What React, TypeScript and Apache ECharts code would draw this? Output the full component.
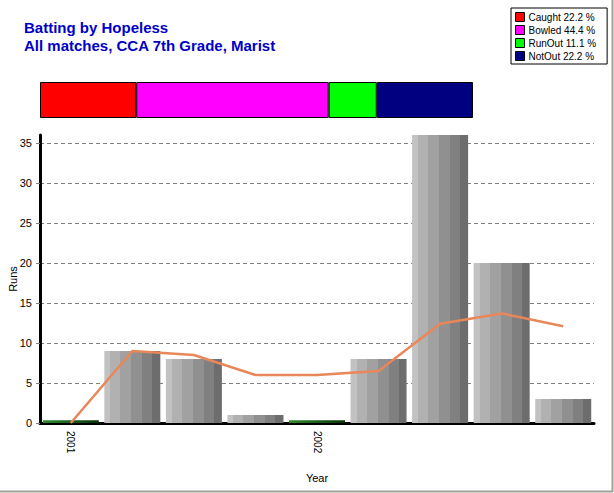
import React, { useEffect, useRef } from "react";
import * as echarts from "echarts";

const innings = ["1", "2", "3", "4", "5", "6", "7", "8", "9"];
const yearLabels = ["2001", "", "", "", "2002", "", "", "", ""];
const runs = [0, 9, 8, 1, 0, 8, 36, 20, 3];
const average = [0, 9, 8.5, 6, 6, 6.5, 12.4, 13.7, 12.1];
const dismissals = ["Caught", "Bowled", "RunOut", "NotOut"];
const dismissalCounts = [2, 4, 1, 2];
const dismissalColors = ["#ff0000", "#ff00ff", "#00ff00", "#000080"];
const yTicks = [0, 5, 10, 15, 20, 25, 30, 35];

const FONT = "'Liberation Sans', Arial, sans-serif";

export default function App() {
  const ref = useRef<HTMLDivElement>(null);
  useEffect(() => {
    if (!ref.current) return;
    const chart = echarts.init(ref.current, undefined, { renderer: "svg" });
    const total = dismissalCounts.reduce((a, b) => a + b, 0);
    const pct = dismissalCounts.map((c) => ((c / total) * 100).toFixed(1));
    const names = dismissals.map((d, i) => `${d} ${pct[i]} %`);

    const greyGrad = new echarts.graphic.LinearGradient(0, 0, 1, 0, [
      { offset: 0, color: "#c2c2c2" },
      { offset: 0.107, color: "#c2c2c2" },
      { offset: 0.107, color: "#b1b1b1" },
      { offset: 0.286, color: "#b1b1b1" },
      { offset: 0.286, color: "#a1a1a1" },
      { offset: 0.482, color: "#a1a1a1" },
      { offset: 0.482, color: "#909090" },
      { offset: 0.679, color: "#909090" },
      { offset: 0.679, color: "#808080" },
      { offset: 0.857, color: "#808080" },
      { offset: 0.857, color: "#6d6d6d" },
      { offset: 1, color: "#6d6d6d" },
    ]);
    const greenGrad = new echarts.graphic.LinearGradient(0, 0, 1, 0, [
      { offset: 0, color: "#2f8a2f" },
      { offset: 1, color: "#0a300a" },
    ]);

    const dismissalSeries = dismissals.map((d, i) => ({
      name: names[i],
      type: "bar",
      stack: "dis",
      xAxisIndex: 1,
      yAxisIndex: 1,
      barCategoryGap: 0,
      data: [dismissalCounts[i]],
      itemStyle: { color: dismissalColors[i], borderColor: "#000", borderWidth: 1 },
      silent: true,
    }));

    chart.setOption({
      animation: false,
      backgroundColor: "#fff",
      title: {
        text: "Batting by Hopeless",
        subtext: "All matches, CCA 7th Grade, Marist",
        left: 19,
        top: 15,
        itemGap: 3,
        textStyle: { color: "#0000c8", fontSize: 15, fontWeight: "bold", fontFamily: FONT },
        subtextStyle: { color: "#0000c8", fontSize: 15, fontWeight: "bold", fontFamily: FONT },
      },
      legend: {
        data: names,
        orient: "vertical",
        left: 511,
        top: 8,
        width: 97,
        borderColor: "#000",
        borderWidth: 1,
        padding: [4, 11, 3, 4],
        itemGap: 3,
        itemWidth: 9,
        itemHeight: 9,
        icon: "rect",
        itemStyle: { borderColor: "#000", borderWidth: 1 },
        textStyle: { fontSize: 10, fontFamily: FONT, color: "#000", padding: [0, 0, 0, -1] },
        selectedMode: false,
      },
      grid: [
        { left: 40, right: 20, top: 135, bottom: 70, outerBoundsMode: "none", containLabel: false },
        { left: 40, top: 82, width: 433, height: 36, outerBoundsMode: "none", containLabel: false },
      ],
      xAxis: [
        {
          type: "category",
          gridIndex: 0,
          data: innings,
          name: "Year",
          nameLocation: "middle",
          nameGap: 49,
          nameMoveOverlap: false,
          nameTextStyle: { fontSize: 11, fontFamily: FONT, color: "#000" },
          axisLine: { lineStyle: { color: "#000", width: 3 } },
          axisTick: { alignWithLabel: true, length: 5, lineStyle: { color: "#000" } },
          axisLabel: {
            interval: 0,
            rotate: -90,
            margin: 8,
            fontSize: 10,
            fontFamily: FONT,
            color: "#000",
            formatter: (_v: string, i: number) => yearLabels[i],
          },
        },
        { type: "value", gridIndex: 1, min: 0, max: total, show: false },
      ],
      yAxis: [
        {
          type: "value",
          gridIndex: 0,
          min: 0,
          max: 36,
          interval: 5,
          name: "Runs",
          nameLocation: "middle",
          nameGap: 22,
          nameMoveOverlap: false,
          nameTextStyle: { fontSize: 11, fontFamily: FONT, color: "#000" },
          axisLine: { show: true, lineStyle: { color: "#000", width: 3 } },
          axisTick: { show: true, length: 4, lineStyle: { color: "#808080" }, customValues: yTicks },
          axisLabel: {
            margin: 8,
            fontSize: 11,
            fontFamily: FONT,
            color: "#000",
            customValues: yTicks,
          },
          splitLine: {
            show: true,
            lineStyle: { color: "#808080", type: [4, 3], width: 1 },
          },
        },
        { type: "category", gridIndex: 1, data: ["d"], show: false },
      ],
      series: [
        {
          name: "Runs",
          type: "bar",
          data: runs,
          barCategoryGap: "9%",
          itemStyle: { color: greyGrad },
          silent: true,
        },
        {
          name: "Ducks",
          type: "bar",
          barGap: "-100%",
          data: runs.map((r) => (r === 0 ? 0.35 : "-")),
          itemStyle: { color: greenGrad },
          silent: true,
        },
        {
          name: "Average",
          type: "line",
          data: average,
          showSymbol: false,
          symbol: "none",
          lineStyle: { color: "#e8875a", width: 2.5 },
          silent: true,
          z: 5,
        },
        ...dismissalSeries,
      ],
      graphic: [
        {
          type: "line",
          shape: { x1: 612.5, y1: 0, x2: 612.5, y2: 492 },
          style: { stroke: "#a0a098", lineWidth: 2 },
        },
        {
          type: "line",
          shape: { x1: 0, y1: 491.5, x2: 613, y2: 491.5 },
          style: { stroke: "#a0a098", lineWidth: 2 },
        },
      ],
    });
    return () => chart.dispose();
  }, []);
  return (
    <div
      ref={ref}
      style={{ position: "fixed", left: 0, top: 0, width: 614, height: 493 }}
    />
  );
}
